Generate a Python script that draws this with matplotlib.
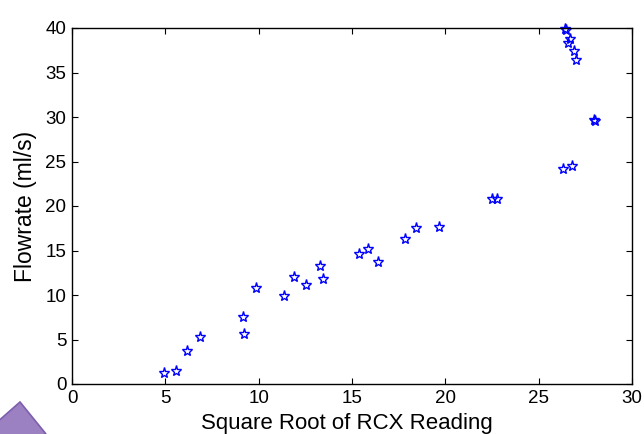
import matplotlib
matplotlib.use("Agg")
import matplotlib.pyplot as plt
from matplotlib.patches import Polygon

# square root of RCX reading vs measured flowrate
sqrt_rcx = [4.94, 5.57, 6.18, 6.87, 9.16, 9.23, 9.86, 11.37, 11.87, 12.53,
            13.27, 13.45, 15.37, 15.87, 16.37, 17.84, 18.44, 19.68, 22.48, 22.75,
            26.32, 26.77, 26.41, 26.45, 26.66, 26.55, 26.87, 26.98, 27.94, 28.0]
flowrate = [1.27, 1.5, 3.67, 5.24, 7.49, 5.58, 10.75, 9.89, 12.06, 11.09,
            13.26, 11.8, 14.57, 15.17, 13.7, 16.33, 17.53, 17.64, 20.75, 20.75,
            24.16, 24.46, 39.92, 39.8, 38.76, 38.3, 37.45, 36.37, 29.7, 29.5]

xticks = [0, 5, 10, 15, 20, 25, 30]
yticks = [0, 5, 10, 15, 20, 25, 30, 35, 40]

plt.rcParams['font.family'] = ['Liberation Sans', 'DejaVu Sans']

fig = plt.figure(figsize=(6.44, 4.34), dpi=100)
ax = fig.add_axes([72/644, 50/434, 560/644, 356/434])

ax.plot(sqrt_rcx, flowrate, linestyle='none', marker='*', markersize=8,
        markerfacecolor='none', markeredgecolor='blue', markeredgewidth=1.0,
        clip_on=False)

ax.set_xlim(0, 30)
ax.set_ylim(0, 40)
ax.set_xticks(xticks)
ax.set_yticks(yticks)
ax.tick_params(direction='in', length=4.5, width=0.8, labelsize=13.5, pad=4,
               top=True, right=True)
for s in ax.spines.values():
    s.set_linewidth(1.0)

ax.set_xlabel('Square Root of RCX Reading', fontsize=16)
ax.set_ylabel('Flowrate (ml/s)', fontsize=16.5)
ax.xaxis.set_label_coords(0.49, -0.081)
ax.yaxis.set_label_coords(-0.063, 0.5)

# purple slide decoration in bottom-left corner
deco = Polygon([[-5/644, 1 - 424/434], [20/644, 1 - 402/434], [46/644, 1 - 434/434],
                [-5/644, 1 - 450/434]], closed=True, transform=fig.transFigure,
               facecolor='#9b80c2', edgecolor='#7d5fae', linewidth=1.2)
fig.patches.append(deco)

fig.savefig('out.png', dpi=100)
